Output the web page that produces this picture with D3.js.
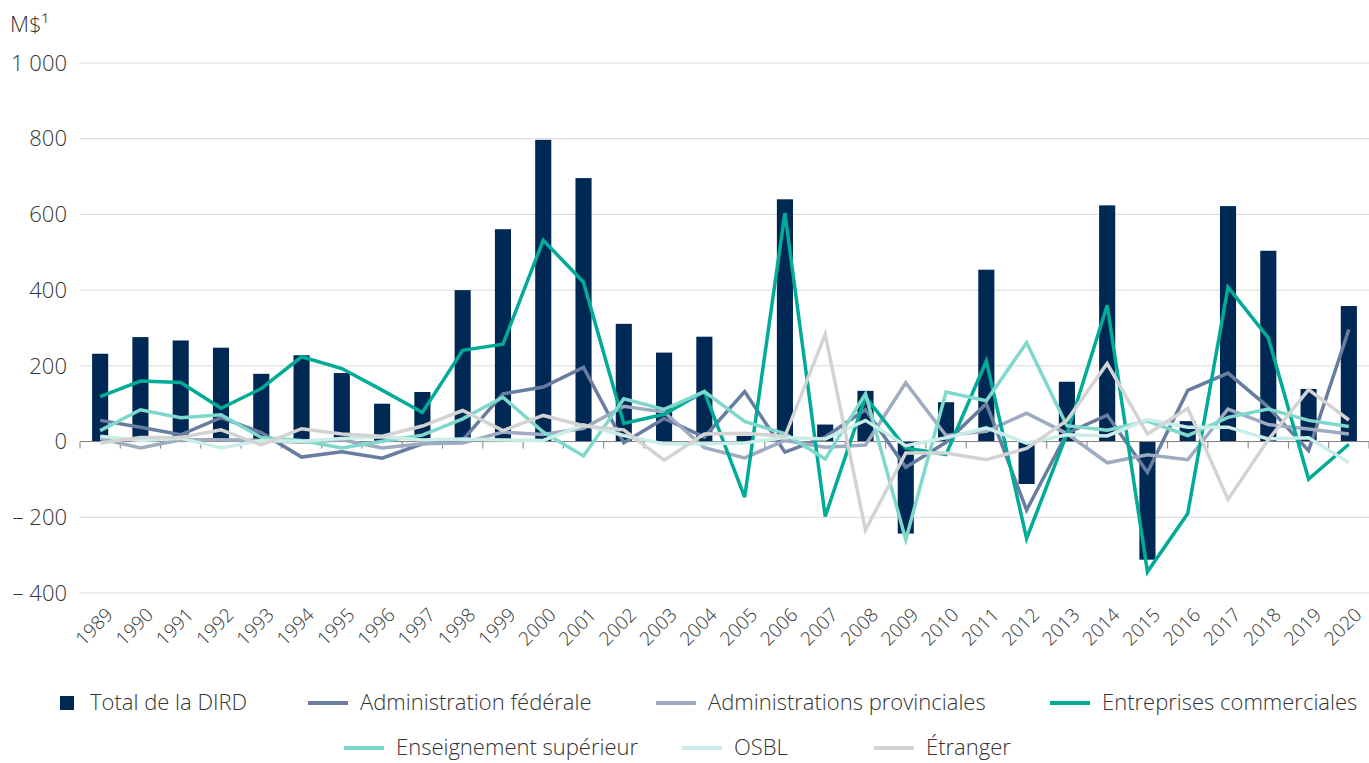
<!DOCTYPE html>
<html lang="fr">
<head>
  <meta charset="UTF-8" />
  <title>Variation de la DIRD</title>
  <style>
    body { margin: 0; background: #fff; }
    text { font-family: "Open Sans", sans-serif; font-weight: 300; fill: #333; }
    .grid line { stroke: #d9d9d9; stroke-width: 1px; }
    .series { fill: none; stroke-width: 3.5px; stroke-linejoin: miter; }
  </style>
  <script src="https://d3js.org/d3.v7.min.js"></script>
</head>
<body>
  <div id="chart"></div>
  <script type="text/javascript">
    const years = d3.range(1989, 2021).map(String);
    const yTicks = [-400, -200, 0, 200, 400, 600, 800, 1000];

    const totalDird = [232, 276, 267, 248, 179, 228, 181, 100, 131, 400, 561, 797, 696, 311, 235, 277,
                       15, 640, 45, 134, -243, 104, 454, -112, 158, 624, -312, 54, 622, 504, 139, 358];
    const adminFederale = [56, 38, 18, 63, 24, -41, -27, -44, -6, 4, 126, 144, 196, -3, 61, 12,
                           132, -28, 12, 84, -68, -2, 100, -181, 22, 70, -81, 135, 181, 91, -24, 296];
    const adminProvinciales = [8, -17, 5, 5, 3, -2, 5, -17, -6, -4, 25, 19, 35, 93, 78, -16,
                               -43, 3, -15, -9, 155, 16, 27, 75, 21, -56, -35, -48, 86, 45, 33, 20];
    const entreprises = [119, 160, 156, 88, 140, 224, 193, 136, 77, 241, 257, 532, 421, 48, 72, 132,
                         -147, 604, -198, 118, -17, -34, 213, -256, 20, 360, -344, -190, 408, 274, -99, -7];
    const enseignement = [29, 84, 63, 71, 11, 3, -17, 1, 17, 60, 117, 25, -38, 113, 85, 132,
                          53, 21, -46, 126, -259, 131, 108, 261, 42, 30, 54, 16, 64, 86, 56, 40];
    const osbl = [14, 3, 9, -17, 3, 1, 8, 13, 4, 7, 4, 3, 44, 16, -6, -6,
                  -4, 11, 7, 56, -11, 10, 36, -4, 18, 15, 58, 38, 38, 7, 10, -55];
    const etranger = [-4, 11, 11, 31, -9, 34, 20, 14, 41, 82, 29, 69, 42, 31, -49, 20,
                      22, 14, 283, -234, -30, -30, -48, -18, 56, 206, 20, 88, -153, 5, 137, 57];

    const lineSeries = [
      { name: "Administration fédérale", values: adminFederale, color: "#687d9f" },
      { name: "Administrations provinciales", values: adminProvinciales, color: "#9eabc0" },
      { name: "Entreprises commerciales", values: entreprises, color: "#00ab98" },
      { name: "Enseignement supérieur", values: enseignement, color: "#7fd8cc" },
      { name: "OSBL", values: osbl, color: "#c9ede8" },
      { name: "Étranger", values: etranger, color: "#d3d3d3" }
    ];
    const barColor = "#002855";

    const width = 1369, height = 763;
    const svg = d3.select("#chart").append("svg")
      .attr("width", width)
      .attr("height", height);

    const x = d3.scaleBand().domain(years).range([80, 1369]).padding(0);
    const y = d3.scaleLinear().domain([-400, 1000]).range([593, 63]);
    const cx = d => x(d) + x.bandwidth() / 2;
    const barW = x.bandwidth() * 0.4;

    // gridlines
    svg.append("g").attr("class", "grid")
      .selectAll("line")
      .data(yTicks.filter(v => v !== 0))
      .enter().append("line")
      .attr("x1", 80).attr("x2", 1369)
      .attr("y1", d => y(d)).attr("y2", d => y(d));

    // y labels
    const fmt = v => (v < 0 ? "\u2013 " : "") + d3.format(",")(Math.abs(v)).replace(/,/g, " ");
    svg.append("g").selectAll("text")
      .data(yTicks)
      .enter().append("text")
      .attr("x", 67)
      .attr("y", d => y(d))
      .attr("dy", "0.35em")
      .attr("text-anchor", "end")
      .style("font-size", "22px")
      .text(fmt);

    svg.append("text")
      .attr("x", 10).attr("y", 32)
      .style("font-size", "22px")
      .text("M$\u00b9");

    // bars
    svg.append("g").selectAll("rect")
      .data(years)
      .enter().append("rect")
      .attr("x", d => cx(d) - barW / 2)
      .attr("width", barW)
      .attr("y", (d, i) => Math.min(y(totalDird[i]), y(0)))
      .attr("height", (d, i) => Math.abs(y(totalDird[i]) - y(0)))
      .attr("fill", barColor);

    // zero axis with ticks at band edges
    const axisG = svg.append("g");
    axisG.append("line")
      .attr("x1", 80).attr("x2", 1369)
      .attr("y1", y(0)).attr("y2", y(0))
      .attr("stroke", "#7f7f7f").attr("stroke-width", 1);
    axisG.selectAll("line.tick")
      .data(years.concat(["end"]))
      .enter().append("line")
      .attr("class", "tick")
      .attr("x1", (d, i) => 80 + i * x.step())
      .attr("x2", (d, i) => 80 + i * x.step())
      .attr("y1", y(0)).attr("y2", y(0) + 7)
      .attr("stroke", "#7f7f7f").attr("stroke-width", 1);

    // lines
    const line = d3.line()
      .x((d, i) => cx(years[i]))
      .y(d => y(d));
    svg.append("g").selectAll("path")
      .data(lineSeries)
      .enter().append("path")
      .attr("class", "series")
      .attr("stroke", d => d.color)
      .attr("d", d => line(d.values));

    // x labels
    svg.append("g").selectAll("text")
      .data(years)
      .enter().append("text")
      .attr("text-anchor", "end")
      .attr("transform", d => `translate(${cx(d) + 14},${616}) rotate(-45)`)
      .style("font-size", "19px")
      .text(d => d);

    // legend
    const legendItems = [
      { name: "Total de la DIRD", color: barColor, type: "box", x: 60, y: 703 },
      { name: lineSeries[0].name, color: lineSeries[0].color, type: "line", x: 308, y: 703 },
      { name: lineSeries[1].name, color: lineSeries[1].color, type: "line", x: 656, y: 703 },
      { name: lineSeries[2].name, color: lineSeries[2].color, type: "line", x: 1050, y: 703 },
      { name: lineSeries[3].name, color: lineSeries[3].color, type: "line", x: 344, y: 748 },
      { name: lineSeries[4].name, color: lineSeries[4].color, type: "line", x: 682, y: 748 },
      { name: lineSeries[5].name, color: lineSeries[5].color, type: "line", x: 874, y: 748 }
    ];
    const leg = svg.append("g").selectAll("g")
      .data(legendItems)
      .enter().append("g")
      .attr("transform", d => `translate(${d.x},${d.y})`);
    leg.each(function (d) {
      const g = d3.select(this);
      if (d.type === "box") {
        g.append("rect").attr("x", 0).attr("y", -7).attr("width", 14).attr("height", 14).attr("fill", d.color);
        g.append("text").attr("x", 30).attr("dy", "0.33em").style("font-size", "22px").text(d.name);
      } else {
        g.append("line").attr("x1", 0).attr("x2", 40).attr("y1", 0).attr("y2", 0)
          .attr("stroke", d.color).attr("stroke-width", 4);
        g.append("text").attr("x", 52).attr("dy", "0.33em").style("font-size", "22px").text(d.name);
      }
    });
  </script>
</body>
</html>
